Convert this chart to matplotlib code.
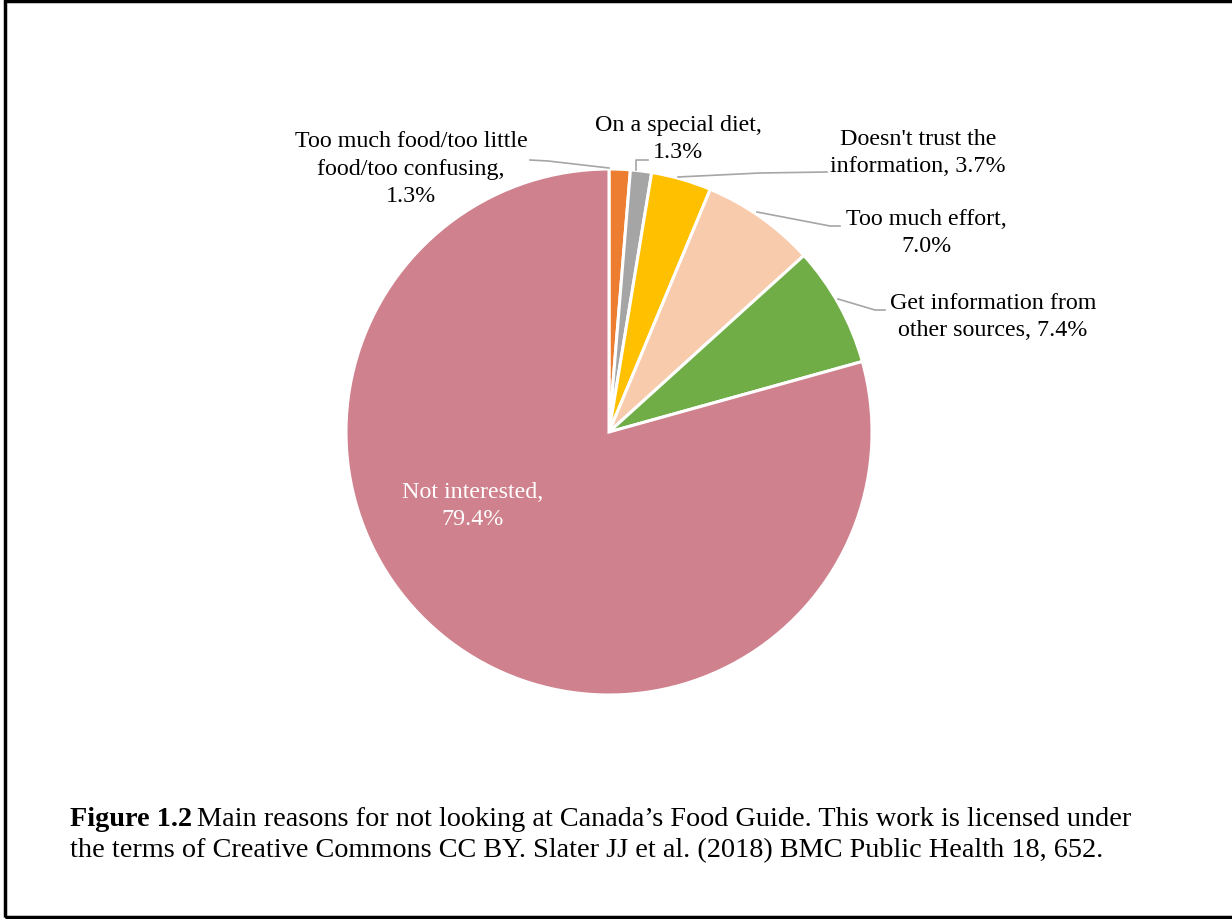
import matplotlib.pyplot as plt
from matplotlib.patches import Rectangle

plt.rcParams['font.family'] = ['Liberation Serif', 'DejaVu Serif']

# reasons for not looking at the food guide, clockwise from the top
labels = ["Too much food/too little\nfood/too confusing,\n1.3%",
          "On a special diet,\n1.3%",
          "Doesn't trust the\ninformation, 3.7%",
          "Too much effort,\n7.0%",
          "Get information from\nother sources, 7.4%",
          "Not interested,\n79.4%"]
shares = [1.3, 1.3, 3.7, 7.0, 7.4, 79.4]
colors = ["#ED7D31", "#A5A5A5", "#FFC000", "#F8CBAD", "#70AD47", "#CF818D"]

W, H = 1232, 920
fig = plt.figure(figsize=(W / 100, H / 100), dpi=100)
ax = fig.add_axes([0, 0, 1, 1])

cx, cy, r = 609, H - 433, 263
wedges, _ = ax.pie(shares, colors=colors, startangle=90, counterclock=False,
                   center=(cx, cy), radius=r, frame=True,
                   wedgeprops=dict(edgecolor='white', linewidth=2.2))
ax.set_xlim(0, W)
ax.set_ylim(0, H)
ax.set_aspect('equal')
ax.axis('off')

fs = 17.3
# label centres and leader line paths, in pixels from top-left
label_pos = [(411, 169), (678, 139), (918, 153), (926, 233), (993, 317), (473, 506)]
leaders = [
    [(530, 161), (548, 162), (609, 169)],
    [(648, 161), (636, 161), (636, 171)],
    [(827, 173), (760, 174), (678, 178)],
    [(840, 227), (830, 227), (757, 213)],
    [(885, 311), (875, 311), (838, 300)],
    None,
]
for i, (lab, (x, y)) in enumerate(zip(labels, label_pos)):
    col = 'white' if i == len(labels) - 1 else 'black'
    ax.text(x, H - y, lab, ha='center', va='center', fontsize=fs,
            color=col, linespacing=1.4)
    if leaders[i]:
        xs = [p[0] for p in leaders[i]]
        ys = [H - p[1] for p in leaders[i]]
        ax.plot(xs, ys, color='#A6A6A6', lw=1.2)

# caption
cfs = 20.3
cap1 = ax.text(70, H - 820, "Figure 1.2", fontsize=cfs, fontweight='bold',
               va='center', ha='left')
fig.canvas.draw()
bb = cap1.get_window_extent()
ax.text(bb.x1 + 5, H - 820,
        "Main reasons for not looking at Canada\u2019s Food Guide. This work is licensed under",
        fontsize=cfs, va='center', ha='left')
ax.text(70, H - 851,
        "the terms of Creative Commons CC BY. Slater JJ et al. (2018) BMC Public Health 18, 652.",
        fontsize=cfs, va='center', ha='left')

# frame around the figure
ax.add_patch(Rectangle((5, 2), W + 10, H - 4, fill=False, edgecolor='black',
                       lw=2.5, clip_on=False))

fig.savefig("out.png", dpi=100)
